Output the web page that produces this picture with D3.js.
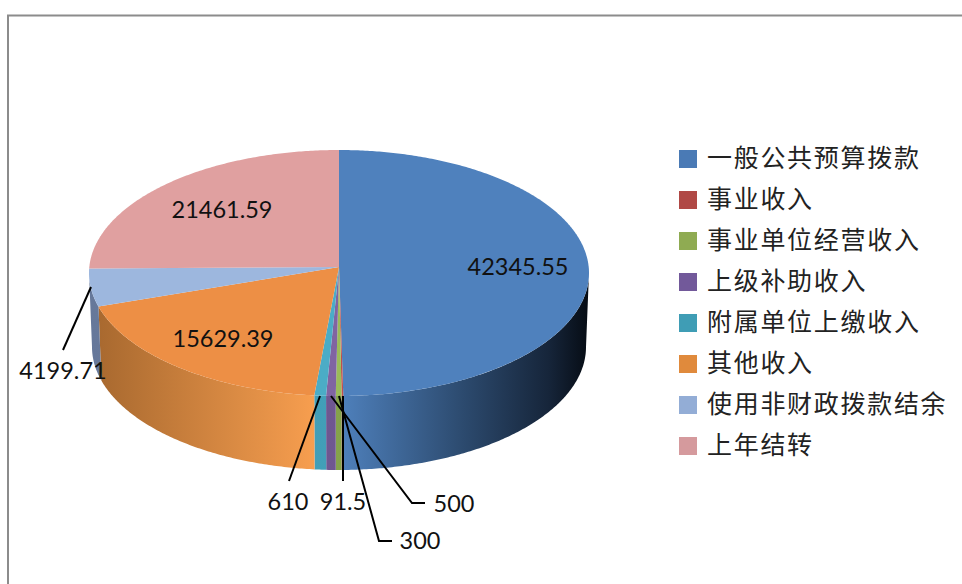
<!DOCTYPE html>
<html>
<head>
<meta charset="utf-8">
<script src="https://cdnjs.cloudflare.com/ajax/libs/d3/7.8.5/d3.min.js"></script>
<style>
html, body { margin: 0; padding: 0; background: #fff; }
svg { display: block; }
.val { font-family: Lato, "Open Sans", sans-serif; font-size: 23.5px; fill: #111; text-anchor: middle; dominant-baseline: central; }
.leg { font-family: "Noto Sans CJK SC", sans-serif; font-size: 25px; letter-spacing: 1.7px; fill: #222; dominant-baseline: central; }
</style>
</head>
<body>
<div id="chart"></div>
<script>
var categories = ['一般公共预算拨款', '事业收入', '事业单位经营收入', '上级补助收入', '附属单位上缴收入', '其他收入', '使用非财政拨款结余', '上年结转'];
var values = [42345.55, 91.5, 300, 500, 610, 15629.39, 4199.71, 21461.59];
var colors = ['#4f81bd', '#c0504d', '#9bbb59', '#8064a2', '#4bacc6', '#ed8f45', '#9db7de', '#e0a0a0'];
var legendColors = ['#4a7ab5', '#b04845', '#8fab52', '#72599a', '#3f9db5', '#e08a3c', '#93add6', '#d59a9d'];
// side wall gradient stops, dark outer edge and light inner edge
var sideDark = ['#16253a', '#7a2e2c', '#6f8a3c', '#5f4a80', '#3a93ab', '#a5672e', '#66789a', '#8f5f5f'];
var sideLight = ['#4f81bd', '#c0504d', '#9bbb59', '#8064a2', '#4bacc6', '#f79e4f', '#7d90b2', '#e0a0a0'];

// geometry of the tilted pie, k is the perspective strength
var cx = 339, cy = 267, rx = 249.7, ry = 122.7, k = 0.0488, depth = 74, bottomScale = 0.988;

var width = 962, height = 584;
var svg = d3.select('#chart').append('svg').attr('width', width).attr('height', height);

// frame
svg.append('path').attr('d', 'M8,584V15.5H962').attr('fill', 'none').attr('stroke', '#8c8c8c').attr('stroke-width', 2);

var pie = d3.pie().sort(null).value(function (d) { return d; });
var arcs = pie(values);

function pt(a) {
    var u = Math.sin(a), v = Math.cos(a), w = 1 + k * v;
    return [cx + rx * u / w, cy - ry * v / w];
}
function ptBottom(a) {
    var p = pt(a);
    return [cx + (p[0] - cx) * bottomScale, p[1] + depth];
}
function samples(a0, a1) {
    var n = Math.max(2, Math.ceil(Math.abs(a1 - a0) / 0.01));
    return d3.range(n + 1).map(function (i) { return a0 + (a1 - a0) * i / n; });
}
var line = d3.line();

var defs = svg.append('defs');

// side walls, visible only between the two widest points of the rim
var wallStart = Math.acos(-k), wallEnd = 2 * Math.PI - wallStart;
var walls = svg.append('g');
arcs.forEach(function (d, i) {
    var a0 = Math.max(d.startAngle, wallStart), a1 = Math.min(d.endAngle, wallEnd);
    if (a1 <= a0) return;
    var top = samples(a0, a1).map(pt);
    var bottom = samples(a1, a0).map(ptBottom);
    var id = 'side' + i;
    var g = defs.append('linearGradient').attr('id', id).attr('gradientUnits', 'userSpaceOnUse')
        .attr('x1', cx - rx).attr('x2', cx + rx).attr('y1', 0).attr('y2', 0);
    if (i === 0) {
        g.append('stop').attr('offset', 0.5).attr('stop-color', sideLight[i]);
        g.append('stop').attr('offset', 0.75).attr('stop-color', '#2c4a6e');
        g.append('stop').attr('offset', 0.92).attr('stop-color', sideDark[i]);
        g.append('stop').attr('offset', 1).attr('stop-color', '#060c14');
    } else if (i === 5) {
        g.append('stop').attr('offset', 0).attr('stop-color', sideDark[i]);
        g.append('stop').attr('offset', 0.45).attr('stop-color', sideLight[i]);
    } else {
        g.append('stop').attr('offset', 0).attr('stop-color', sideDark[i]);
        g.append('stop').attr('offset', 1).attr('stop-color', sideLight[i]);
    }
    walls.append('path').attr('d', line(top.concat(bottom)) + 'Z').attr('fill', 'url(#' + id + ')');
});

// top face
var faces = svg.append('g');
arcs.forEach(function (d, i) {
    var p = [[cx, cy]].concat(samples(d.startAngle, d.endAngle).map(pt));
    faces.append('path').attr('d', line(p) + 'Z').attr('fill', colors[i]);
});

// leader lines and value labels
var leaders = [
    { i: 4, pts: [[320, 396], [289, 481]], tx: 288, ty: 501 },
    { i: 1, pts: [[343, 396], [343, 481]], tx: 343, ty: 501 },
    { i: 3, pts: [[331, 396], [412, 503], [425, 503]], tx: 454, ty: 503 },
    { i: 2, pts: [[339, 396], [379, 541], [392, 541]], tx: 420, ty: 540 },
    { i: 6, pts: [[91, 287], [63, 350]], tx: 63, ty: 370 }
];
var inner = [
    { i: 0, tx: 518, ty: 266 },
    { i: 7, tx: 222, ty: 209 },
    { i: 5, tx: 223, ty: 338 }
];
leaders.forEach(function (l) {
    svg.append('path').attr('d', line(l.pts)).attr('fill', 'none').attr('stroke', '#000').attr('stroke-width', 2);
});
leaders.concat(inner).forEach(function (l) {
    svg.append('text').attr('class', 'val').attr('x', l.tx).attr('y', l.ty).text(values[l.i]);
});

// legend
var legend = svg.selectAll('g.item').data(categories).enter().append('g').attr('class', 'item')
    .attr('transform', function (d, i) { return 'translate(679,' + (159 + 41 * i) + ')'; });
legend.append('rect').attr('x', 0).attr('y', -9).attr('width', 18).attr('height', 18)
    .attr('fill', function (d, i) { return legendColors[i]; });
legend.append('text').attr('class', 'leg').attr('x', 28).attr('y', -3).text(function (d) { return d; });
</script>
</body>
</html>
